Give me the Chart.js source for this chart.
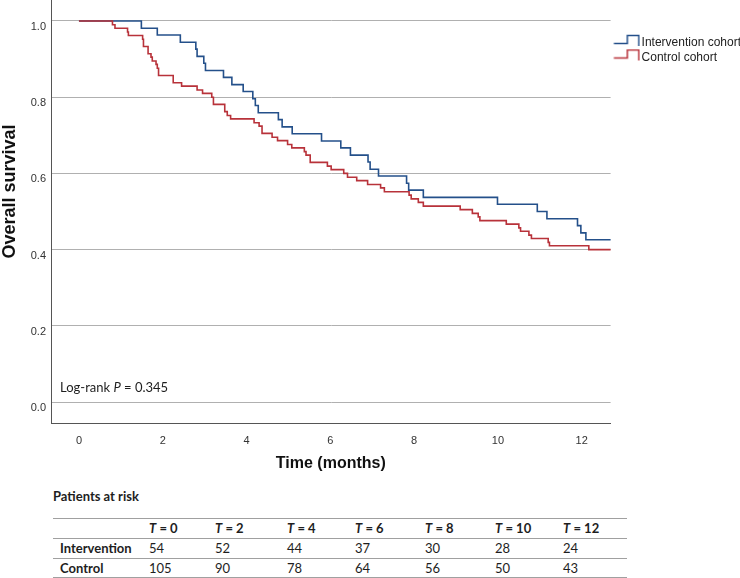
<!DOCTYPE html>
<html><head><meta charset="utf-8">
<script src="https://cdn.jsdelivr.net/npm/chart.js@4.4.1/dist/chart.umd.min.js"></script>
<style>
html,body{margin:0;padding:0;background:#fff;}
body{width:740px;height:578px;position:relative;overflow:hidden;font-family:Lato,"Open Sans",sans-serif;color:#1e1e1e;}
#wrap{position:absolute;left:0;top:0;width:740px;height:480px;}
#logrank{position:absolute;left:60px;top:378px;font-size:13px;line-height:18px;white-space:nowrap;}
#riskTitle{position:absolute;left:53px;top:487px;font-size:13px;font-weight:bold;line-height:18px;}
#risk{position:absolute;left:53px;top:518px;width:574px;border-top:1px solid #a0a0a0;}
.row{position:relative;border-bottom:1px solid #a0a0a0;}
.cell{position:absolute;top:0;font-size:13px;white-space:nowrap;}
.hdr .cell{font-weight:bold;}
.lbl{font-weight:bold;}
</style></head>
<body>
<div id="wrap"><canvas id="c" width="740" height="480"></canvas></div>
<div id="logrank">Log-rank <i>P</i> = 0.345</div>
<div id="riskTitle">Patients at risk</div>
<div id="risk"></div>
<script>
// ---- data ----
const seriesNames = ['Intervention cohort', 'Control cohort'];
const interventionTimes = [0, 1.49, 1.87, 2.42, 2.79, 2.82, 2.98, 3.02, 3.45, 3.65, 3.92, 4.15, 4.21, 4.28, 4.76, 4.85, 5.09, 5.79, 6.25, 6.48, 6.90, 6.95, 7.15, 7.82, 7.87, 8.22, 9.99, 10.94, 11.17, 11.90, 11.98, 12.10, 12.70];
const interventionSurvival = [1.000, 0.981, 0.963, 0.944, 0.926, 0.907, 0.889, 0.870, 0.852, 0.833, 0.815, 0.796, 0.778, 0.759, 0.741, 0.722, 0.704, 0.685, 0.667, 0.648, 0.630, 0.611, 0.593, 0.574, 0.556, 0.537, 0.519, 0.500, 0.481, 0.463, 0.444, 0.426, 0.426];
const controlTimes = [0, 0.80, 0.86, 1.16, 1.18, 1.52, 1.54, 1.65, 1.72, 1.75, 1.84, 1.87, 1.90, 2.25, 2.45, 2.82, 2.95, 3.17, 3.21, 3.48, 3.54, 3.62, 4.18, 4.30, 4.37, 4.61, 4.74, 4.98, 5.08, 5.38, 5.42, 5.52, 5.93, 6.02, 6.32, 6.41, 6.63, 6.89, 7.20, 7.29, 7.88, 7.93, 8.10, 8.22, 9.10, 9.39, 9.53, 9.57, 10.20, 10.50, 10.54, 10.74, 10.80, 11.20, 11.23, 12.17, 12.70];
const controlSurvival = [1.000, 0.990, 0.981, 0.971, 0.962, 0.952, 0.933, 0.914, 0.905, 0.895, 0.886, 0.876, 0.857, 0.838, 0.829, 0.819, 0.810, 0.800, 0.781, 0.762, 0.752, 0.743, 0.733, 0.724, 0.705, 0.695, 0.686, 0.676, 0.667, 0.657, 0.648, 0.629, 0.619, 0.610, 0.600, 0.590, 0.581, 0.571, 0.562, 0.552, 0.543, 0.533, 0.524, 0.514, 0.505, 0.495, 0.486, 0.476, 0.467, 0.457, 0.448, 0.438, 0.429, 0.419, 0.410, 0.400, 0.400];
const xTickValues = [0, 2, 4, 6, 8, 10, 12];
const yTickValues = [0, 0.2, 0.4, 0.6, 0.8, 1.0];
const riskHeaders = ['0', '2', '4', '6', '8', '10', '12'];
const riskRowNames = ['Intervention', 'Control'];
const riskIntervention = [54, 52, 44, 37, 30, 28, 24];
const riskControl = [105, 90, 78, 64, 56, 50, 43];

// ---- styles ----
const BLUE = '#24508a';
const RED = '#b8323a';
const AXIS_FONT = '"Liberation Sans", Arial, sans-serif';

function toPoints(xs, ys) { return xs.map((x, i) => ({x: x, y: ys[i]})); }

function makeIcon(color) {
  const c = document.createElement('canvas');
  c.width = 32; c.height = 18;
  const g = c.getContext('2d');
  g.strokeStyle = color; g.lineWidth = 1.5;
  g.beginPath();
  g.moveTo(5.5, 9.5); g.lineTo(19, 9.5); g.lineTo(19, 1.5); g.lineTo(30.5, 1.5); g.lineTo(30.5, 12);
  g.stroke();
  return c;
}
const icons = [makeIcon(RED), makeIcon(BLUE)];

new Chart(document.getElementById('c'), {
  type: 'line',
  data: {
    datasets: [
      {label: seriesNames[1], data: toPoints(controlTimes, controlSurvival), borderColor: RED, backgroundColor: RED, borderWidth: 1.6, stepped: true, pointRadius: 0, fill: false},
      {label: seriesNames[0], data: toPoints(interventionTimes, interventionSurvival), borderColor: BLUE, backgroundColor: BLUE, borderWidth: 1.6, stepped: true, pointRadius: 0, fill: false}
    ]
  },
  options: {
    responsive: false,
    animation: false,
    events: [],
    layout: {padding: {left: 0, right: -11, top: 0, bottom: 0}},
    plugins: {
      tooltip: {enabled: false},
      legend: {
        position: 'right',
        align: 'start',
        reverse: true,
        title: {display: true, text: '', font: {size: 12, lineHeight: 1}, padding: {top: 22.5, bottom: 0}},
        labels: {
          usePointStyle: true,
          pointStyleWidth: 22.5,
          padding: 2.5,
          color: '#222',
          font: {family: AXIS_FONT, size: 12},
          generateLabels(chart) {
            const items = Chart.defaults.plugins.legend.labels.generateLabels(chart);
            items.forEach(it => { it.pointStyle = icons[it.datasetIndex]; });
            return items;
          }
        }
      }
    },
    scales: {
      x: {
        type: 'linear',
        min: -0.667, max: 12.69,
        afterBuildTicks: s => { s.ticks = xTickValues.map(v => ({value: v})); },
        afterFit: s => { s.height = 57; s.paddingLeft = 0; s.paddingRight = 0; },
        ticks: {color: '#333', font: {family: AXIS_FONT, size: 11}, padding: 11, callback: v => String(v)},
        grid: {display: true, drawOnChartArea: false, drawTicks: false},
        border: {display: true, color: '#555', width: 1},
        title: {display: true, text: 'Time (months)', color: '#111', font: {family: AXIS_FONT, size: 16, weight: 'bold', lineHeight: 1}, padding: {top: 0, bottom: 8}}
      },
      y: {
        type: 'linear',
        min: -0.055, max: 1.055,
        afterBuildTicks: s => { s.ticks = yTickValues.map(v => ({value: v})); },
        afterFit: s => { s.width = 51; s.paddingTop = 0; s.paddingBottom = 0; },
        ticks: {color: '#333', font: {family: AXIS_FONT, size: 11}, padding: 5, labelOffset: 6, callback: v => Number(v).toFixed(1)},
        grid: {color: '#b0b0b0', lineWidth: 1, drawTicks: false},
        border: {display: true, color: '#555', width: 1},
        title: {display: true, text: '        Overall survival', color: '#111', font: {family: AXIS_FONT, size: 18, weight: 'bold', lineHeight: 1}, padding: {top: 1, bottom: 0}}
      }
    }
  }
});

// ---- at-risk table built from arrays ----
const colLefts = [0, 96, 162, 234, 302, 372, 442, 510];
const rowHeights = [19, 19, 18];
const risk = document.getElementById('risk');
function addRow(cells, cls, h) {
  const r = document.createElement('div');
  r.className = 'row ' + cls;
  r.style.height = h + 'px';
  cells.forEach((html, i) => {
    const d = document.createElement('div');
    d.className = 'cell' + (i === 0 && cls !== 'hdr' ? ' lbl' : '');
    d.style.left = (colLefts[i] + (i === 0 ? 7 : 0)) + 'px';
    d.style.lineHeight = h + 'px';
    d.innerHTML = html;
    r.appendChild(d);
  });
  risk.appendChild(r);
}
addRow([''].concat(riskHeaders.map(t => '<i>T</i> = ' + t)), 'hdr', rowHeights[0]);
addRow([riskRowNames[0]].concat(riskIntervention.map(String)), 'r1', rowHeights[1]);
addRow([riskRowNames[1]].concat(riskControl.map(String)), 'r2', rowHeights[2]);
</script>
</body></html>
